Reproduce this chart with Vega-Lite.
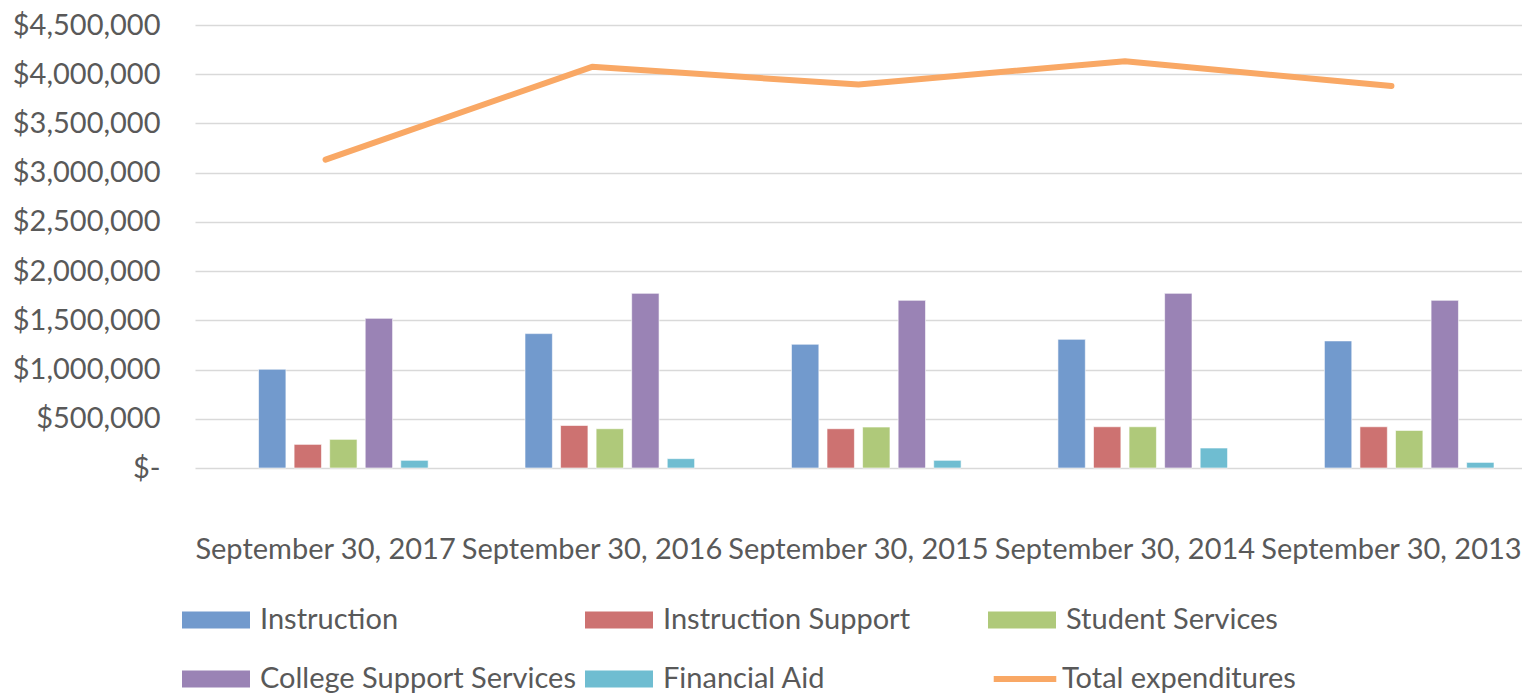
{
  "$schema": "https://vega.github.io/schema/vega-lite/v6.json",
  "autosize": {"type": "none"},
  "padding": {"left": 195, "top": 25, "right": 0, "bottom": 226},
  "width": 1327,
  "height": 443,
  "background": "#ffffff",
  "config": {
    "view": {"stroke": null},
    "font": "Lato",
    "axis": {"labelFont": "Lato", "labelColor": "#595959", "labelFontSize": 29},
    "legend": {"labelFont": "Lato", "labelColor": "#595959", "labelFontSize": 29}
  },
  "data": {
    "values": [
      {"date": "September 30, 2017", "series": "Instruction", "value": 1003000},
      {"date": "September 30, 2017", "series": "Instruction Support", "value": 240000},
      {"date": "September 30, 2017", "series": "Student Services", "value": 291000},
      {"date": "September 30, 2017", "series": "College Support Services", "value": 1520000},
      {"date": "September 30, 2017", "series": "Financial Aid", "value": 78000},
      {"date": "September 30, 2017", "series": "Total expenditures", "value": 3132000},
      {"date": "September 30, 2016", "series": "Instruction", "value": 1365000},
      {"date": "September 30, 2016", "series": "Instruction Support", "value": 432000},
      {"date": "September 30, 2016", "series": "Student Services", "value": 399000},
      {"date": "September 30, 2016", "series": "College Support Services", "value": 1774000},
      {"date": "September 30, 2016", "series": "Financial Aid", "value": 95000},
      {"date": "September 30, 2016", "series": "Total expenditures", "value": 4075000},
      {"date": "September 30, 2015", "series": "Instruction", "value": 1257000},
      {"date": "September 30, 2015", "series": "Instruction Support", "value": 399000},
      {"date": "September 30, 2015", "series": "Student Services", "value": 416000},
      {"date": "September 30, 2015", "series": "College Support Services", "value": 1703000},
      {"date": "September 30, 2015", "series": "Financial Aid", "value": 78000},
      {"date": "September 30, 2015", "series": "Total expenditures", "value": 3895000},
      {"date": "September 30, 2014", "series": "Instruction", "value": 1307000},
      {"date": "September 30, 2014", "series": "Instruction Support", "value": 419000},
      {"date": "September 30, 2014", "series": "Student Services", "value": 419000},
      {"date": "September 30, 2014", "series": "College Support Services", "value": 1774000},
      {"date": "September 30, 2014", "series": "Financial Aid", "value": 203000},
      {"date": "September 30, 2014", "series": "Total expenditures", "value": 4132000},
      {"date": "September 30, 2013", "series": "Instruction", "value": 1291000},
      {"date": "September 30, 2013", "series": "Instruction Support", "value": 419000},
      {"date": "September 30, 2013", "series": "Student Services", "value": 382000},
      {"date": "September 30, 2013", "series": "College Support Services", "value": 1703000},
      {"date": "September 30, 2013", "series": "Financial Aid", "value": 57000},
      {"date": "September 30, 2013", "series": "Total expenditures", "value": 3880000}
    ]
  },
  "encoding": {
    "x": {
      "field": "date",
      "type": "nominal",
      "scale": {
        "domain": ["September 30, 2017", "September 30, 2016", "September 30, 2015", "September 30, 2014", "September 30, 2013"],
        "paddingInner": 0.23,
        "paddingOuter": 0.105
      },
      "axis": {
        "title": null,
        "labelAngle": 0,
        "domain": false,
        "ticks": false,
        "labelPadding": 67,
        "labelOverlap": false,
        "labelLimit": 400,
        "labelBaseline": "top"
      }
    },
    "y": {
      "field": "value",
      "type": "quantitative",
      "scale": {"domain": [0, 4500000], "nice": false, "zero": true},
      "axis": {
        "title": null,
        "values": [0, 500000, 1000000, 1500000, 2000000, 2500000, 3000000, 3500000, 4000000, 4500000],
        "labelExpr": "datum.value === 0 ? '$-' : '$' + format(datum.value, ',')",
        "domain": false,
        "ticks": false,
        "labelPadding": 35,
        "gridColor": "#d9d9d9",
        "gridWidth": 1.5
      }
    }
  },
  "layer": [
    {
      "transform": [{"filter": "datum.series !== 'Total expenditures'"}],
      "mark": {"type": "bar", "stroke": "#ffffff", "strokeOpacity": 0.6, "strokeWidth": 1},
      "encoding": {
        "xOffset": {
          "field": "series",
          "type": "nominal",
          "scale": {
            "domain": ["Total expenditures", "Instruction", "Instruction Support", "Student Services", "College Support Services", "Financial Aid"],
            "paddingInner": 0.23,
            "paddingOuter": 0
          }
        },
        "color": {
          "field": "series",
          "type": "nominal",
          "scale": {
            "domain": ["Instruction", "Instruction Support", "Student Services", "College Support Services", "Financial Aid"],
            "range": ["#729ACD", "#CD7271", "#AFC97A", "#9A83B5", "#6FBDD1"]
          },
          "legend": {
            "title": null,
            "orient": "none",
            "legendX": -13,
            "legendY": 561,
            "direction": "horizontal",
            "columns": 3,
            "gridAlign": "all",
            "columnPadding": 9,
            "rowPadding": 10,
            "padding": 0,
            "symbolSize": 4624,
            "symbolType": "M-1,-0.25H1V0.25H-1Z",
            "symbolStrokeWidth": 0,
            "symbolOpacity": 1,
            "labelOffset": 10,
            "labelLimit": 500
          }
        }
      }
    },
    {
      "transform": [{"filter": "datum.series === 'Total expenditures'"}],
      "mark": {"type": "line", "strokeWidth": 6, "strokeCap": "round", "strokeJoin": "round"},
      "encoding": {
        "stroke": {
          "field": "series",
          "type": "nominal",
          "scale": {"domain": ["Total expenditures"], "range": ["#F9A865"]},
          "legend": {
            "title": null,
            "orient": "none",
            "legendX": 793,
            "legendY": 617,
            "padding": 0,
            "symbolSize": 4624,
            "symbolType": "M-0.92,0H0.92",
            "symbolStrokeWidth": 6,
            "symbolOpacity": 1,
            "labelOffset": 0,
            "labelLimit": 500
          }
        }
      }
    }
  ]
}
